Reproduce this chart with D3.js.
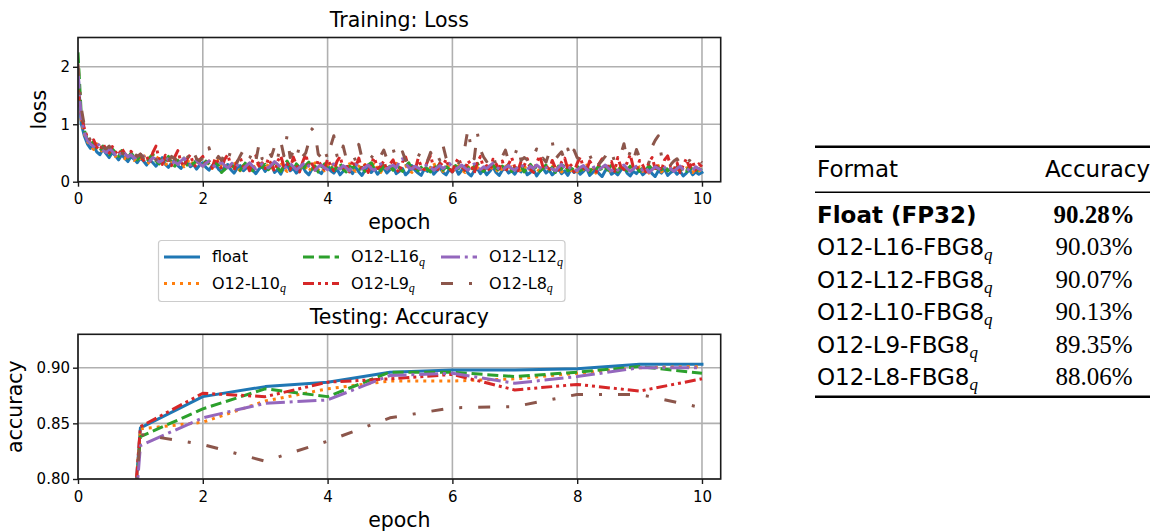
<!DOCTYPE html>
<html>
<head>
<meta charset="utf-8">
<script src="https://cdn.jsdelivr.net/npm/d3@7"></script>
<style>
  body { margin: 0; background: #fff; }
</style>
</head>
<body>
<svg id="fig" width="1154" height="532"></svg>
<script>
// legend / series order as plotted
const seriesNames = ["float", "O12-L10", "O12-L16", "O12-L9", "O12-L12", "O12-L8"];
const seriesQuant = [false, true, true, true, true, true];

// training loss, one value every 0.05 epoch (201 points)
const lossStepsPerEpoch = 20;
const lossFloat = [
  1.90, 1.02, 0.80, 0.66, 0.58, 0.63, 0.52, 0.47, 0.57, 0.49, 0.42, 0.51, 0.45, 0.38, 0.47, 0.41, 0.35, 0.44, 0.39, 0.33,
  0.41, 0.36, 0.29, 0.38, 0.33, 0.27, 0.35, 0.42, 0.30, 0.25, 0.33, 0.37, 0.28, 0.23, 0.31, 0.35, 0.26, 0.30, 0.22, 0.29,
  0.33, 0.25, 0.20, 0.28, 0.31, 0.22, 0.17, 0.26, 0.30, 0.21, 0.15, 0.23, 0.28, 0.19, 0.24, 0.32, 0.20, 0.14, 0.22, 0.27,
  0.18, 0.24, 0.29, 0.16, 0.21, 0.13, 0.25, 0.30, 0.19, 0.23, 0.15, 0.20, 0.27, 0.17, 0.12, 0.22, 0.26, 0.18, 0.14, 0.24,
  0.28, 0.19, 0.15, 0.22, 0.12, 0.18, 0.26, 0.21, 0.14, 0.25, 0.17, 0.11, 0.20, 0.27, 0.16, 0.22, 0.13, 0.19, 0.24, 0.15,
  0.21, 0.26, 0.14, 0.18, 0.23, 0.12, 0.17, 0.28, 0.20, 0.15, 0.11, 0.22, 0.18, 0.25, 0.13, 0.19, 0.24, 0.16, 0.12, 0.21,
  0.17, 0.24, 0.13, 0.20, 0.27, 0.15, 0.10, 0.19, 0.23, 0.14, 0.21, 0.12, 0.18, 0.26, 0.16, 0.11, 0.20, 0.24, 0.15, 0.19,
  0.13, 0.22, 0.17, 0.25, 0.12, 0.16, 0.21, 0.10, 0.18, 0.24, 0.15, 0.20, 0.12, 0.17, 0.23, 0.14, 0.19, 0.11, 0.22, 0.16,
  0.20, 0.13, 0.18, 0.24, 0.11, 0.16, 0.21, 0.14, 0.09, 0.19, 0.23, 0.13, 0.17, 0.12, 0.20, 0.26, 0.15, 0.10, 0.18, 0.14,
  0.21, 0.12, 0.17, 0.23, 0.14, 0.09, 0.19, 0.15, 0.22, 0.11, 0.16, 0.20, 0.13, 0.18, 0.10, 0.15, 0.21, 0.12, 0.17, 0.13,
  0.16
];
const lossL10 = [
  1.80, 1.08, 0.84, 0.70, 0.64, 0.56, 0.66, 0.59, 0.50, 0.55, 0.61, 0.48, 0.44, 0.53, 0.47, 0.40, 0.49, 0.43, 0.37, 0.46,
  0.40, 0.47, 0.36, 0.31, 0.43, 0.38, 0.45, 0.33, 0.28, 0.39, 0.35, 0.42, 0.30, 0.36, 0.26, 0.34, 0.40, 0.29, 0.35, 0.31,
  0.27, 0.36, 0.30, 0.23, 0.33, 0.38, 0.26, 0.31, 0.21, 0.29, 0.35, 0.24, 0.19, 0.28, 0.33, 0.25, 0.30, 0.22, 0.34, 0.27,
  0.22, 0.31, 0.26, 0.19, 0.29, 0.34, 0.23, 0.18, 0.27, 0.32, 0.24, 0.20, 0.30, 0.25, 0.17, 0.28, 0.33, 0.21, 0.26, 0.19,
  0.29, 0.24, 0.33, 0.20, 0.26, 0.17, 0.28, 0.31, 0.22, 0.18, 0.27, 0.23, 0.30, 0.19, 0.25, 0.34, 0.21, 0.16, 0.26, 0.22,
  0.18, 0.27, 0.32, 0.23, 0.19, 0.28, 0.21, 0.16, 0.25, 0.30, 0.22, 0.27, 0.17, 0.24, 0.33, 0.20, 0.26, 0.18, 0.23, 0.29,
  0.24, 0.19, 0.28, 0.21, 0.16, 0.26, 0.31, 0.20, 0.25, 0.17, 0.23, 0.29, 0.19, 0.27, 0.22, 0.15, 0.24, 0.30, 0.20, 0.26,
  0.21, 0.28, 0.17, 0.23, 0.30, 0.19, 0.25, 0.16, 0.22, 0.27, 0.18, 0.24, 0.31, 0.20, 0.26, 0.17, 0.23, 0.28, 0.19, 0.24,
  0.17, 0.25, 0.21, 0.29, 0.18, 0.23, 0.15, 0.26, 0.20, 0.28, 0.22, 0.16, 0.24, 0.19, 0.27, 0.21, 0.30, 0.17, 0.23, 0.20,
  0.26, 0.18, 0.22, 0.15, 0.25, 0.20, 0.28, 0.17, 0.23, 0.19, 0.26, 0.16, 0.21, 0.27, 0.18, 0.24, 0.20, 0.16, 0.23, 0.19,
  0.21
];
const lossL16 = [
  2.25, 1.22, 0.90, 0.73, 0.65, 0.70, 0.58, 0.53, 0.62, 0.55, 0.47, 0.57, 0.51, 0.44, 0.54, 0.46, 0.41, 0.50, 0.43, 0.38,
  0.45, 0.39, 0.34, 0.42, 0.48, 0.36, 0.31, 0.40, 0.35, 0.44, 0.32, 0.27, 0.37, 0.33, 0.41, 0.29, 0.35, 0.30, 0.38, 0.32,
  0.28, 0.36, 0.31, 0.25, 0.34, 0.29, 0.16, 0.21, 0.27, 0.33, 0.24, 0.30, 0.20, 0.28, 0.35, 0.23, 0.19, 0.29, 0.32, 0.25,
  0.30, 0.21, 0.27, 0.33, 0.24, 0.18, 0.28, 0.36, 0.26, 0.20, 0.31, 0.25, 0.19, 0.29, 0.34, 0.22, 0.27, 0.17, 0.25, 0.31,
  0.23, 0.28, 0.19, 0.26, 0.32, 0.21, 0.17, 0.27, 0.24, 0.30, 0.20, 0.25, 0.18, 0.29, 0.33, 0.22, 0.26, 0.19, 0.28, 0.23,
  0.27, 0.20, 0.31, 0.24, 0.18, 0.26, 0.33, 0.22, 0.27, 0.19, 0.25, 0.30, 0.21, 0.17, 0.28, 0.24, 0.32, 0.20, 0.26, 0.22,
  0.19, 0.28, 0.23, 0.31, 0.20, 0.25, 0.17, 0.27, 0.32, 0.22, 0.18, 0.26, 0.21, 0.29, 0.24, 0.19, 0.27, 0.22, 0.30, 0.18,
  0.25, 0.21, 0.28, 0.17, 0.24, 0.30, 0.22, 0.26, 0.18, 0.23, 0.29, 0.20, 0.25, 0.16, 0.27, 0.22, 0.31, 0.19, 0.24, 0.20,
  0.27, 0.19, 0.23, 0.29, 0.17, 0.25, 0.21, 0.28, 0.18, 0.24, 0.20, 0.30, 0.22, 0.17, 0.26, 0.23, 0.19, 0.27, 0.21, 0.25,
  0.18, 0.24, 0.20, 0.28, 0.22, 0.17, 0.25, 0.21, 0.29, 0.19, 0.23, 0.16, 0.26, 0.20, 0.24, 0.18, 0.27, 0.21, 0.17, 0.23,
  0.20
];
const lossL9 = [
  1.60, 1.18, 0.93, 0.77, 0.68, 0.73, 0.60, 0.55, 0.66, 0.57, 0.50, 0.61, 0.52, 0.46, 0.58, 0.49, 0.43, 0.53, 0.45, 0.40,
  0.48, 0.37, 0.44, 0.33, 0.51, 0.62, 0.39, 0.30, 0.46, 0.36, 0.28, 0.43, 0.54, 0.34, 0.27, 0.40, 0.47, 0.31, 0.25, 0.38,
  0.44, 0.29, 0.36, 0.24, 0.41, 0.33, 0.22, 0.39, 0.47, 0.28, 0.20, 0.35, 0.42, 0.26, 0.31, 0.19, 0.37, 0.45, 0.27, 0.33,
  0.23, 0.40, 0.30, 0.18, 0.36, 0.45, 0.26, 0.32, 0.21, 0.43, 0.29, 0.17, 0.34, 0.48, 0.25, 0.31, 0.20, 0.38, 0.27, 0.22,
  0.39, 0.28, 0.19, 0.35, 0.44, 0.24, 0.30, 0.17, 0.37, 0.26, 0.41, 0.21, 0.29, 0.16, 0.33, 0.42, 0.23, 0.27, 0.36, 0.20,
  0.31, 0.38, 0.22, 0.16, 0.34, 0.43, 0.25, 0.29, 0.19, 0.40, 0.27, 0.21, 0.35, 0.46, 0.24, 0.18, 0.32, 0.28, 0.39, 0.23,
  0.17, 0.33, 0.41, 0.26, 0.20, 0.37, 0.29, 0.15, 0.34, 0.44, 0.23, 0.28, 0.18, 0.39, 0.31, 0.22, 0.36, 0.16, 0.30, 0.42,
  0.25, 0.19, 0.35, 0.28, 0.40, 0.21, 0.16, 0.33, 0.45, 0.26, 0.30, 0.18, 0.37, 0.24, 0.20, 0.34, 0.41, 0.22, 0.29, 0.17,
  0.32, 0.43, 0.24, 0.19, 0.36, 0.28, 0.15, 0.31, 0.40, 0.22, 0.27, 0.35, 0.18, 0.42, 0.26, 0.21, 0.33, 0.47, 0.25, 0.20,
  0.37, 0.29, 0.17, 0.34, 0.42, 0.23, 0.30, 0.19, 0.38, 0.45, 0.26, 0.21, 0.33, 0.16, 0.29, 0.40, 0.24, 0.35, 0.20, 0.31,
  0.26
];
const lossL12 = [
  1.95, 1.12, 0.86, 0.72, 0.66, 0.61, 0.68, 0.62, 0.55, 0.51, 0.58, 0.53, 0.47, 0.52, 0.45, 0.49, 0.43, 0.47, 0.41, 0.44,
  0.49, 0.44, 0.40, 0.36, 0.42, 0.39, 0.34, 0.37, 0.43, 0.38, 0.32, 0.35, 0.30, 0.36, 0.41, 0.34, 0.29, 0.33, 0.37, 0.31,
  0.27, 0.32, 0.36, 0.30, 0.26, 0.29, 0.34, 0.28, 0.24, 0.30, 0.35, 0.29, 0.25, 0.23, 0.28, 0.33, 0.27, 0.22, 0.26, 0.31,
  0.28, 0.24, 0.29, 0.35, 0.30, 0.25, 0.22, 0.27, 0.32, 0.26, 0.21, 0.25, 0.30, 0.34, 0.27, 0.23, 0.20, 0.26, 0.29, 0.24,
  0.21, 0.27, 0.31, 0.25, 0.22, 0.28, 0.24, 0.19, 0.26, 0.30, 0.27, 0.22, 0.25, 0.29, 0.23, 0.20, 0.26, 0.31, 0.25, 0.22,
  0.26, 0.29, 0.24, 0.35, 0.40, 0.31, 0.25, 0.22, 0.27, 0.24, 0.21, 0.26, 0.30, 0.25, 0.20, 0.24, 0.28, 0.23, 0.27, 0.32,
  0.26, 0.22, 0.25, 0.29, 0.24, 0.20, 0.27, 0.31, 0.25, 0.21, 0.26, 0.23, 0.28, 0.32, 0.26, 0.22, 0.19, 0.25, 0.28, 0.23,
  0.20, 0.26, 0.30, 0.24, 0.21, 0.27, 0.23, 0.29, 0.25, 0.20, 0.24, 0.28, 0.22, 0.19, 0.25, 0.30, 0.24, 0.21, 0.26, 0.23,
  0.19, 0.25, 0.28, 0.22, 0.18, 0.24, 0.27, 0.21, 0.25, 0.29, 0.23, 0.19, 0.24, 0.20, 0.26, 0.29, 0.23, 0.18, 0.22, 0.27,
  0.24, 0.20, 0.25, 0.16, 0.21, 0.26, 0.23, 0.19, 0.24, 0.28, 0.22, 0.18, 0.23, 0.27, 0.21, 0.17, 0.24, 0.20, 0.26, 0.22,
  0.20
];
const lossL8 = [
  2.05, 1.30, 0.98, 0.82, 0.72, 0.70, 0.64, 0.68, 0.60, 0.57, 0.62, 0.55, 0.52, 0.58, 0.50, 0.47, 0.53, 0.45, 0.49, 0.44,
  0.48, 0.42, 0.46, 0.40, 0.45, 0.38, 0.43, 0.47, 0.39, 0.36, 0.44, 0.40, 0.35, 0.42, 0.38, 0.46, 0.37, 0.52, 0.40, 0.36,
  0.42, 0.38, 0.59, 0.40, 0.35, 0.44, 0.37, 0.48, 0.36, 0.55, 0.42, 0.34, 0.45, 0.55, 0.38, 0.41, 0.52, 0.36, 0.65, 0.40,
  0.38, 0.55, 0.44, 0.61, 0.40, 0.70, 0.45, 0.80, 0.42, 0.52, 0.39, 0.63, 0.44, 0.50, 0.70, 0.92, 0.85, 0.48, 0.42, 0.57,
  0.40, 0.62, 0.80, 0.45, 0.38, 0.62, 0.40, 0.44, 0.49, 0.36, 0.65, 0.41, 0.44, 0.37, 0.42, 0.49, 0.38, 0.45, 0.55, 0.40,
  0.56, 0.57, 0.39, 0.44, 0.52, 0.37, 0.42, 0.35, 0.38, 0.43, 0.55, 0.40, 0.36, 0.51, 0.39, 0.48, 0.37, 0.63, 0.41, 0.34,
  0.40, 0.36, 0.33, 0.43, 0.60, 0.92, 0.57, 0.40, 0.85, 0.55, 0.43, 0.35, 0.41, 0.49, 0.27, 0.38, 0.44, 0.55, 0.36, 0.40,
  0.46, 0.62, 0.37, 0.42, 0.38, 0.33, 0.45, 0.57, 0.36, 0.41, 0.34, 0.50, 0.70, 0.39, 0.46, 0.52, 0.37, 0.57, 0.40, 0.55,
  0.42, 0.38, 0.33, 0.40, 0.46, 0.34, 0.43, 0.31, 0.37, 0.44, 0.56, 0.52, 0.35, 0.41, 0.48, 0.66, 0.38, 0.52, 0.36, 0.56,
  0.42, 0.35, 0.40, 0.33, 0.61, 0.72, 0.80, 0.45, 0.34, 0.38, 0.30, 0.36, 0.40, 0.31, 0.35, 0.29, 0.37, 0.32, 0.28, 0.38,
  0.33
];

// testing accuracy per epoch
const accEpochs = [0, 1, 2, 3, 4, 5, 6, 7, 8, 9, 10];
const accFloat = [0.10, 0.846, 0.874, 0.883, 0.887, 0.896, 0.898, 0.898, 0.899, 0.903, 0.903];
const accL10   = [0.10, 0.845, 0.851, 0.870, 0.881, 0.888, 0.888, 0.890, 0.895, 0.900, 0.901];
const accL16   = [0.10, 0.838, 0.863, 0.881, 0.874, 0.896, 0.896, 0.892, 0.896, 0.901, 0.895];
const accL9    = [0.10, 0.847, 0.877, 0.874, 0.887, 0.890, 0.894, 0.880, 0.885, 0.879, 0.890];
const accL12   = [0.10, 0.830, 0.855, 0.868, 0.871, 0.893, 0.895, 0.886, 0.892, 0.900, 0.900];
const accL8    = [0.10, 0.840, 0.831, 0.816, 0.834, 0.855, 0.864, 0.865, 0.876, 0.876, 0.864];

const epochTicks = [0, 2, 4, 6, 8, 10];
const lossTicks = [0, 1, 2];
const accTicks = [0.80, 0.85, 0.90];

// table on the right
const tableFormats = ["Float (FP32)", "O12-L16-FBG8", "O12-L12-FBG8", "O12-L10-FBG8", "O12-L9-FBG8", "O12-L8-FBG8"];
const tableQuant = [false, true, true, true, true, true];
const tableAccuracy = [90.28, 90.03, 90.07, 90.13, 89.35, 88.06];

let colors = ["#1f77b4", "#ff7f0e", "#2ca02c", "#d62728", "#9467bd", "#8c564b"];
let dashes = [null, "3,5", "11,4.8", "11,4,3,4,3,4", "19,4.8,3,4.8", "12,16,3,16"];
let lw = 3;

let lossEpochs = lossFloat.map((d, i) => i / lossStepsPerEpoch);
let lossSeries = [lossFloat, lossL10, lossL16, lossL9, lossL12, lossL8];
let accSeries = [accFloat, accL10, accL16, accL9, accL12, accL8];

let svg = d3.select("#fig").attr("font-family", "DejaVu Sans");

function drawPanel(cfg) {
  let left = 78, right = 720.7;
  let x = d3.scaleLinear().domain([0, 10.3]).range([left, right]);
  let y = d3.scaleLinear().domain(cfg.yDomain).range([cfg.bottom, cfg.top]);
  let g = svg.append("g");

  // grid
  g.selectAll(".gx").data(epochTicks).enter().append("line")
    .attr("x1", d => x(d)).attr("x2", d => x(d))
    .attr("y1", cfg.top).attr("y2", cfg.bottom)
    .attr("stroke", "#b0b0b0").attr("stroke-width", 1.6);
  g.selectAll(".gy").data(cfg.yTicks).enter().append("line")
    .attr("x1", left).attr("x2", right)
    .attr("y1", d => y(d)).attr("y2", d => y(d))
    .attr("stroke", "#b0b0b0").attr("stroke-width", 1.6);

  g.append("clipPath").attr("id", cfg.id + "-clip")
    .append("rect")
    .attr("x", left).attr("y", cfg.top)
    .attr("width", right - left).attr("height", cfg.bottom - cfg.top);

  let line = d3.line()
    .x((d, i) => x(cfg.xs[i]))
    .y(d => y(d));

  let lines = g.append("g").attr("clip-path", "url(#" + cfg.id + "-clip)");
  cfg.series.forEach(function (s, i) {
    lines.append("path")
      .datum(s)
      .attr("d", line)
      .attr("fill", "none")
      .attr("stroke", colors[i])
      .attr("stroke-width", lw)
      .attr("stroke-linejoin", "round")
      .attr("stroke-linecap", dashes[i] ? "butt" : "square")
      .attr("stroke-dasharray", dashes[i]);
  });

  // spines
  g.append("rect")
    .attr("x", left).attr("y", cfg.top)
    .attr("width", right - left).attr("height", cfg.bottom - cfg.top)
    .attr("fill", "none").attr("stroke", "#1a1a1a").attr("stroke-width", 1.6);

  let xAxis = d3.axisBottom(x).tickValues(epochTicks).tickSize(5).tickPadding(7).tickFormat(d3.format("d"));
  let yAxis = d3.axisLeft(y).tickValues(cfg.yTicks).tickSize(5).tickPadding(3).tickFormat(cfg.yFormat);

  g.append("g")
    .attr("transform", "translate(0," + cfg.bottom + ")")
    .call(xAxis)
    .call(a => a.select(".domain").remove());
  g.append("g")
    .attr("transform", "translate(" + left + ",0)")
    .call(yAxis)
    .call(a => a.select(".domain").remove());
  g.selectAll(".tick text").attr("font-size", 15).attr("font-family", "DejaVu Sans");
  g.selectAll(".tick line").attr("stroke", "#1a1a1a").attr("stroke-width", 1.4);

  g.append("text")
    .attr("x", (left + right) / 2).attr("y", cfg.top - 10.5)
    .attr("text-anchor", "middle").attr("font-size", 20.5)
    .text(cfg.title);
  g.append("text")
    .attr("x", (left + right) / 2).attr("y", cfg.bottom + 47.5)
    .attr("text-anchor", "middle").attr("font-size", 20.5)
    .text("epoch");
  g.append("text")
    .attr("transform", "translate(" + cfg.ylabelX + "," + (cfg.top + cfg.bottom) / 2 + ") rotate(-90)")
    .attr("text-anchor", "middle").attr("font-size", 20.5)
    .text(cfg.ylabel);
}

drawPanel({
  id: "loss", title: "Training: Loss", ylabel: "loss", ylabelX: 46,
  top: 37.5, bottom: 181.7, yDomain: [0, 2.51], yTicks: lossTicks,
  yFormat: d3.format("d"), xs: lossEpochs, series: lossSeries
});

drawPanel({
  id: "acc", title: "Testing: Accuracy", ylabel: "accuracy", ylabelX: 22,
  top: 334.3, bottom: 479, yDomain: [0.80, 0.93], yTicks: accTicks,
  yFormat: d3.format(".2f"), xs: accEpochs, series: accSeries
});

// legend (3 columns, filled column by column)
let legend = svg.append("g");
legend.append("rect")
  .attr("x", 158.5).attr("y", 240.5).attr("width", 406.5).attr("height", 61)
  .attr("rx", 3).attr("fill", "#fff").attr("fill-opacity", 0.8)
  .attr("stroke", "#cccccc").attr("stroke-width", 1.2);

let colX = [164, 303, 441];
let rowY = [257, 283.5];
seriesNames.forEach(function (name, i) {
  let cx = colX[Math.floor(i / 2)];
  let cy = rowY[i % 2];
  legend.append("line")
    .attr("x1", cx).attr("x2", cx + 36)
    .attr("y1", cy).attr("y2", cy)
    .attr("stroke", colors[i]).attr("stroke-width", lw)
    .attr("stroke-linecap", "butt")
    .attr("stroke-dasharray", dashes[i]);
  let t = legend.append("text")
    .attr("x", cx + 48).attr("y", cy + 5)
    .attr("font-size", 16)
    .text(name);
  if (seriesQuant[i]) {
    t.append("tspan")
      .attr("dy", 3.5).attr("font-size", 12)
      .attr("font-family", "Liberation Serif").attr("font-style", "italic")
      .text("q");
  }
});

// accuracy table
let table = svg.append("g");
let tLeft = 815, tRight = 1150;
table.append("line").attr("x1", tLeft).attr("x2", tRight).attr("y1", 146.8).attr("y2", 146.8)
  .attr("stroke", "#000").attr("stroke-width", 2.4);
table.append("line").attr("x1", tLeft).attr("x2", tRight).attr("y1", 192.2).attr("y2", 192.2)
  .attr("stroke", "#000").attr("stroke-width", 1.4);
table.append("line").attr("x1", tLeft).attr("x2", tRight).attr("y1", 396.8).attr("y2", 396.8)
  .attr("stroke", "#000").attr("stroke-width", 2.4);

table.append("text").attr("x", 817).attr("y", 176.7).attr("font-size", 23).text("Format");
table.append("text").attr("x", tRight).attr("y", 176.7).attr("font-size", 23)
  .attr("text-anchor", "end").text("Accuracy");

let rowBase = d3.scaleLinear().domain([0, 5]).range([222.7, 385]);
let pct = d3.format(".2f");
tableFormats.forEach(function (f, i) {
  let t = table.append("text")
    .attr("x", 817).attr("y", rowBase(i))
    .attr("font-size", 23)
    .attr("font-weight", i === 0 ? "bold" : "normal")
    .text(f);
  if (tableQuant[i]) {
    t.append("tspan")
      .attr("dy", 5).attr("font-size", 17)
      .attr("font-family", "Liberation Serif").attr("font-style", "italic")
      .text("q");
  }
  table.append("text")
    .attr("x", 1094).attr("y", rowBase(i))
    .attr("text-anchor", "middle")
    .attr("font-family", "Liberation Serif")
    .attr("font-size", 25)
    .attr("font-weight", i === 0 ? "bold" : "normal")
    .text(pct(tableAccuracy[i]) + "%");
});
</script>
</body>
</html>
